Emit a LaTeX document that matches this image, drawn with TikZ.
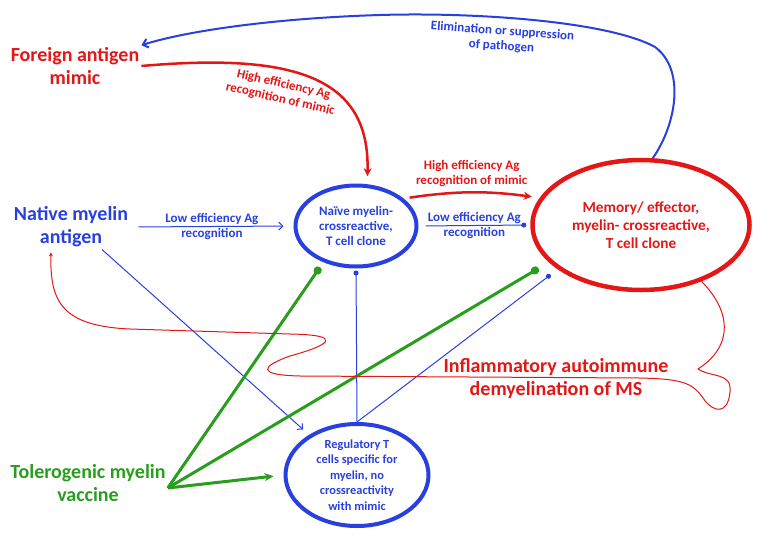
\documentclass[tikz,border=0pt]{standalone}
\usepackage{fontspec}
\setmainfont{Carlito}
\usetikzlibrary{arrows.meta, shapes.geometric}

\definecolor{agred}{RGB}{228,22,22}
\definecolor{agblue}{RGB}{40,64,222}
\definecolor{aggreen}{RGB}{40,158,28}

\begin{document}
\begin{tikzpicture}[x=1pt, y=-1pt,
  ag/.style={font=\bfseries\fontsize{20}{23}\selectfont, align=center, inner sep=2pt},
  cell/.style={draw, ellipse, line width=4pt, inner sep=0pt, align=center,
               font=\bfseries\fontsize{13}{15}\selectfont},
  lbl/.style={font=\bfseries\fontsize{13}{15}\selectfont, align=center, inner sep=1.5pt},
  link/.style={agblue, line width=1pt},
  barb/.style={-{Straight Barb[length=4pt, width=8pt]}},
  dotend/.style={-{Circle[length=5pt]}},
  vacc/.style={aggreen, line width=3pt},
  bigdot/.style={-{Circle[length=8pt]}},
]
\useasboundingbox (0,0) rectangle (767,543);

% antigens and vaccine
\node[ag, agred] (fa) at (75,66) {Foreign antigen\\mimic};
\node[ag, agblue] (nat) at (71,227) {Native myelin\\antigen};
\node[ag, aggreen] (vac) at (88,483) {Tolerogenic myelin\\vaccine};
\node[ag, agred] (infl) at (556,379) {Inflammatory autoimmune\\demyelination of MS};

% T cell clones
\node[cell, agblue, minimum width=121, minimum height=81] (naive) at (356,226)
  {Naïve myelin-\\crossreactive,\\T cell clone};
\node[cell, agred, line width=4.5pt, minimum width=217, minimum height=130,
      font=\bfseries\fontsize{15.3}{18}\selectfont] (mem) at (641,225)
  {Memory/ effector,\\myelin- crossreactive,\\T cell clone};
\node[cell, agblue, minimum width=143, minimum height=102] (reg) at (357,475) {};
\node[agblue, align=center, font=\bfseries\fontsize{12.4}{15.5}\selectfont] (regtxt) at (reg)
  {Regulatory T\\cells specific for\\myelin, no\\crossreactivity\\with mimic};

% elimination of pathogen
\draw[agblue, line width=2pt, -{Straight Barb[length=5pt, width=9pt]}]
  (mem.80) .. controls (676,125) and (686,70) .. (655,47)
  .. controls (610,22) and (480,12) .. (380,15)
  .. controls (280,18) and (190,30) .. (fa.north east);
\node[lbl, agblue, rotate=-4] (elim) at (502,39) {Elimination or suppression\\of pathogen};

% high efficiency recognition
\draw[agred, line width=2.5pt, -{Stealth[length=8pt, width=8pt]}, shorten >=8pt]
  (fa.east) .. controls (300,52) and (370,80) .. (naive.75);
\node[lbl, agred, rotate=-13] (hi1) at (282,92) {High efficiency Ag\\recognition of mimic};
\draw[agred, line width=2.5pt, -{Stealth[length=8pt, width=8pt]}, shorten <=6pt, shorten >=8pt]
  (naive.30) to[bend left=8] node[lbl, above=3pt] (hi2) {High efficiency Ag\\recognition of mimic} (mem.165);

% low efficiency recognition
\draw[link, barb, shorten <=8pt, shorten >=10pt]
  (nat.east) -- node[lbl, agblue] (lo1) {Low efficiency Ag\\recognition} (naive.west);
\draw[link, dotend, shorten <=7pt, shorten >=4pt]
  (naive.east) -- node[lbl, agblue] (lo2) {Low efficiency Ag\\recognition} (mem.west);
\draw[link, barb, shorten >=8pt] (nat.-36) -- (reg.140);

% regulatory T cells
\draw[link, dotend, shorten >=2pt] (reg.north) -- (naive.south);
\draw[link, dotend, shorten >=9pt] (reg.north) -- (mem.208);

% vaccine
\coordinate (vtip) at ([yshift=-5pt]vac.east);
\draw[vacc, bigdot, shorten >=6pt] (vtip) -- (naive.228);
\draw[vacc, bigdot, shorten >=12pt] (vtip) -- (mem.202);
\draw[vacc, -{Stealth[length=9pt, width=8pt]}, shorten >=10pt] (vtip) -- (reg.west);

% autoimmune loop
\draw[agred, line width=1pt, -{Stealth[length=4pt, width=4pt]}, shorten >=3pt]
  (mem.-43) .. controls (730,310) and (735,345) .. (698,369)
  .. controls (712,378) and (732,372) .. (730,392)
  .. controls (728,414) and (714,414) .. (703,398)
  .. controls (692,382) and (680,379) .. (640,378) -- (300,376)
  .. controls (255,375) and (262,366) .. (290,356)
  .. controls (330,345) and (345,335) .. (290,334) -- (130,329)
  .. controls (60,326) and (50,300) .. ([xshift=-20]nat.south);

\end{tikzpicture}
\end{document}
